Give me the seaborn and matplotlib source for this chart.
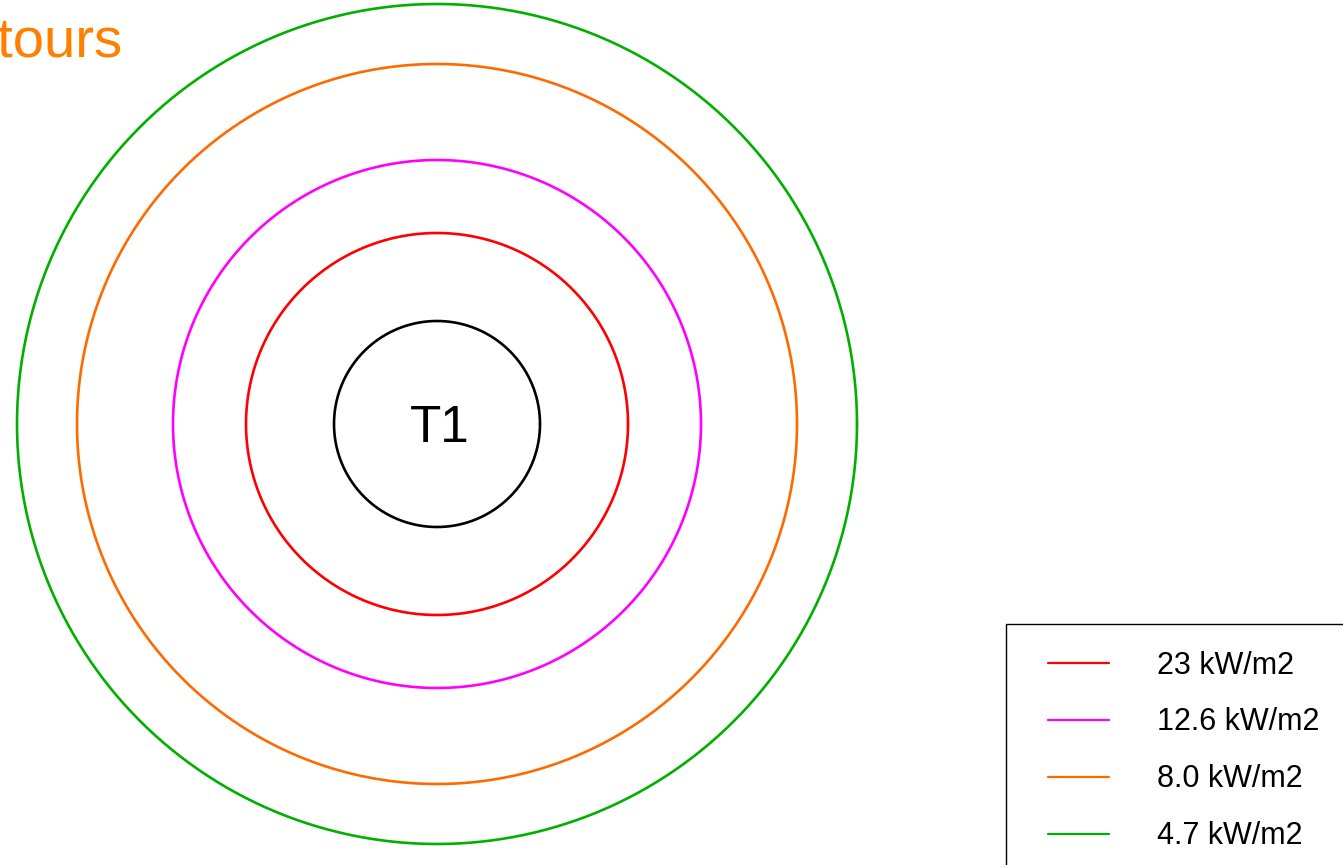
import numpy as np
import pandas as pd
import matplotlib
matplotlib.use("Agg")
import matplotlib.pyplot as plt
from matplotlib.lines import Line2D
from matplotlib.legend_handler import HandlerLine2D
import seaborn as sns

# ---- data ----
tank_label = "T1"
tank_radius = 103
contour_labels = ["23 kW/m2", "12.6 kW/m2", "8.0 kW/m2", "4.7 kW/m2"]
contour_radii = [191, 264, 360, 420]
contour_colors = ["#FF0000", "#FF00FF", "#FF6A00", "#00B000"]
center = (437, 424)
title = "Contours"

sns.set_theme(style="white")
plt.rcParams['font.family'] = ['Liberation Sans', 'DejaVu Sans']
plt.rcParams['text.color'] = 'black'

fig = plt.figure(figsize=(13.43, 8.65), dpi=100)
ax = fig.add_axes([0, 0, 1, 1])

theta = np.linspace(0, 2 * np.pi, 721)
rows = []
for lab, r in zip(contour_labels, contour_radii):
    for t in theta:
        rows.append({"label": lab, "x": center[0] + r * np.cos(t), "y": center[1] + r * np.sin(t)})
df = pd.DataFrame(rows)

tank = pd.DataFrame({"x": center[0] + tank_radius * np.cos(theta),
                     "y": center[1] + tank_radius * np.sin(theta)})

sns.lineplot(data=df, x="x", y="y", hue="label", hue_order=contour_labels,
             palette=dict(zip(contour_labels, contour_colors)),
             sort=False, estimator=None, linewidth=1.9, ax=ax)
sns.lineplot(data=tank, x="x", y="y", color="black", sort=False, estimator=None,
             linewidth=1.9, ax=ax)

ax.text(center[0] + 3, center[1] + 4, tank_label, ha="center", va="center",
        fontsize=37, color="black")
ax.text(122, 57, title, ha="right", va="baseline", fontsize=40.5, color="#FF8000")

ax.set_xlim(0, 1343)
ax.set_ylim(865, 0)
ax.set_aspect("equal")
ax.axis("off")

handles, labels = ax.get_legend_handles_labels()
for h in handles:
    h.set_linewidth(1.6)
leg = ax.legend(handles, labels, loc="upper left",
                bbox_to_anchor=(1006 / 1343, 1 - 624 / 865),
                bbox_transform=fig.transFigure, borderaxespad=0,
                fontsize=22, frameon=True, fancybox=False, shadow=False,
                handlelength=2.5, handletextpad=1.57, labelspacing=0.88,
                borderpad=0.87, labelcolor="black",
                handler_map={Line2D: HandlerLine2D(xpad=0.5)})
leg.get_frame().set_edgecolor("black")
leg.get_frame().set_linewidth(1.0)
leg.get_frame().set_alpha(1)

fig.savefig("out.png", dpi=100)
